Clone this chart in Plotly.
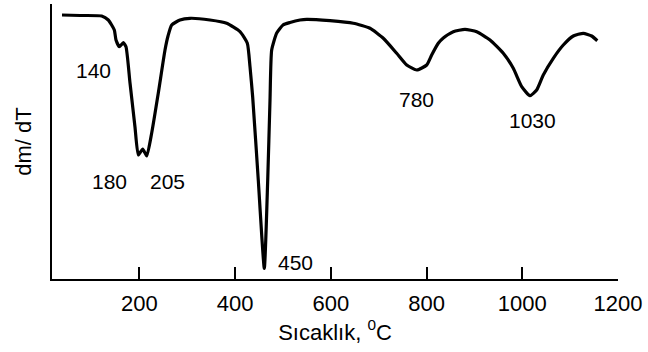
import plotly.graph_objects as go

# Temperature (°C) and DTG signal (arbitrary units)
temperature = [38.3, 75.9, 121.2, 135.0, 147.6, 151.1, 158.0, 166.4, 172.0, 180.4,
               190.8, 197.7, 206.9, 215.3, 225.7, 239.5, 253.5, 259.8, 267.5, 284.8,
               305.7, 347.5, 382.4, 410.2, 425.5, 431.1, 436.7, 448.4, 461.0, 468.1,
               472.9, 476.4, 486.9, 500.1, 514.7, 535.6, 549.6, 598.3, 646.9, 681.8,
               709.6, 737.6, 758.5, 779.4, 800.3, 810.7, 824.5, 835.0, 855.9, 880.3,
               904.8, 932.6, 960.3, 981.2, 998.8, 1016.1, 1030.1, 1043.9, 1064.8, 1085.7,
               1106.6, 1127.5, 1145.0, 1156.7]
dtg = [264.0, 263.5, 263.0, 259.0, 249.0, 239.0, 232.3, 236.3, 232.3, 196.0,
       152.0, 124.0, 130.0, 123.0, 146.0, 186.0, 229.0, 243.0, 254.0, 259.0,
       260.7, 259.0, 255.7, 247.3, 235.7, 212.3, 182.0, 99.0, 10.7, 99.0,
       179.0, 229.0, 246.0, 254.0, 256.5, 259.0, 259.7, 258.3, 255.7, 250.7,
       240.7, 225.7, 214.0, 209.0, 214.0, 224.0, 235.7, 241.0, 247.3, 249.7,
       247.3, 239.0, 225.7, 210.7, 192.3, 183.3, 189.0, 204.0, 220.7, 234.0,
       243.0, 245.7, 243.0, 238.3]

# Peak labels and where they are written
peak_labels = ["140", "180", "205", "450", "780", "1030"]
label_x = [103.1, 136.5, 257.7, 526.2, 779.0, 1021.4]
label_y = [208.5, 97.7, 98.0, 16.5, 179.5, 158.5]

tick_values = [200, 400, 600, 800, 1000, 1200]
tick_text = ["200", "400", "600", "800", "1000", "1200"]

FONT = "Liberation Sans, Arial, sans-serif"

fig = go.Figure()
fig.add_trace(go.Scatter(
    x=temperature, y=dtg, mode="lines",
    line=dict(color="black", width=3.2, shape="spline", smoothing=0.5),
    hoverinfo="skip", showlegend=False,
))

for txt, lx, ly in zip(peak_labels, label_x, label_y):
    fig.add_annotation(x=lx, y=ly, text=txt, showarrow=False,
                       xanchor="center", yanchor="middle",
                       font=dict(family=FONT, size=21, color="black"))

fig.update_layout(
    width=648, height=352,
    margin=dict(l=52, r=30, t=4, b=73),
    paper_bgcolor="white", plot_bgcolor="white",
    font=dict(family=FONT, size=22, color="black"),
)
fig.update_xaxes(
    range=[17.4, 1200], showgrid=False, zeroline=False,
    showline=True, linecolor="black", linewidth=2,
    ticks="inside", ticklen=12, tickwidth=2, tickcolor="black",
    tickvals=tick_values, ticktext=tick_text, ticklabelstandoff=4,
    tickfont=dict(family=FONT, size=22, color="black"),
    title=dict(text="Sıcaklık, <sup>0</sup>C", standoff=8,
               font=dict(family=FONT, size=22, color="black")),
)
fig.update_yaxes(
    range=[0, 275], showgrid=False, zeroline=False,
    showline=True, linecolor="black", linewidth=2,
    ticks="", showticklabels=False,
    title=dict(text="dm/ dT", standoff=12,
               font=dict(family=FONT, size=22, color="black")),
)

fig.write_html("out.html")
